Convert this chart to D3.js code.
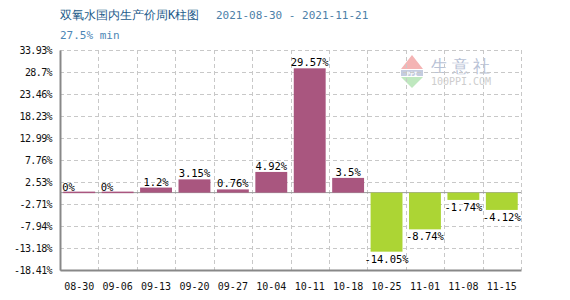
<!DOCTYPE html>
<html>
<head>
<meta charset="utf-8">
<script src="https://cdn.jsdelivr.net/npm/d3@7"></script>
<style>
  body { margin: 0; background: #fff; }
  .grid line { stroke: #c8c8c8; stroke-dasharray: 4,3; }
  .axis path, .axis line { stroke: #888; }
  text { font-family: 'DejaVu Sans Mono', monospace; }
</style>
</head>
<body>
<div id="vis"></div>
<script>
const weeks = ['08-30', '09-06', '09-13', '09-20', '09-27', '10-04', '10-11', '10-18', '10-25', '11-01', '11-08', '11-15']
const changes = [0, 0, 1.2, 3.15, 0.76, 4.92, 29.57, 3.5, -14.05, -8.74, -1.74, -4.12]
const yTicks = [33.93, 28.7, 23.46, 18.23, 12.99, 7.76, 2.53, -2.71, -7.94, -13.18, -18.41]

const width = 570
const height = 300
const margin = { top: 50, right: 49, bottom: 30, left: 60 }
const chartWidth = width - margin.left - margin.right
const chartHeight = height - margin.top - margin.bottom

const svg = d3.select('#vis').append('svg')
  .attr('width', width).attr('height', height)

const x = d3.scaleBand()
  .domain(weeks)
  .range([margin.left, margin.left + chartWidth])
  .paddingInner(0.17)
  .paddingOuter(0.085)

const step = chartWidth / weeks.length

const y = d3.scaleLinear()
  .domain([d3.min(yTicks), d3.max(yTicks)])
  .range([margin.top + chartHeight, margin.top])

// title
svg.append('text')
  .attr('x', 60).attr('y', 19)
  .attr('font-family', "'Noto Sans CJK SC', sans-serif")
  .attr('font-size', 12)
  .attr('fill', '#1d5b8a')
  .text('双氧水国内生产价周K柱图')
svg.append('text')
  .attr('x', 216).attr('y', 19)
  .attr('font-size', 11)
  .attr('fill', '#4d7fa8')
  .text('2021-08-30 - 2021-11-21')
svg.append('text')
  .attr('x', 60).attr('y', 39)
  .attr('font-size', 11)
  .attr('fill', '#4d86b5')
  .text('27.5% min')

// watermark
const wm = svg.append('g').attr('transform', 'translate(401,55)')
wm.append('path').attr('d', 'M0,14L11,0L22,14Z').attr('fill', '#f4b4b4')
wm.append('rect').attr('x', 0).attr('y', 15).attr('width', 22).attr('height', 6).attr('fill', '#c4cce0')
wm.append('text').attr('x', 11).attr('y', 20.5).attr('text-anchor', 'middle')
  .attr('font-size', 6).attr('font-weight', 'bold').attr('fill', '#fff').text('PPI')
wm.append('path').attr('d', 'M0,22L22,22L11,33Z').attr('fill', '#bfe8bf')
wm.append('text').attr('x', 61).attr('y', 17)
  .attr('font-family', "'Noto Sans CJK SC', sans-serif")
  .attr('font-size', 17).attr('letter-spacing', 4).attr('text-anchor', 'middle')
  .attr('fill', '#b8c2d6').text('生意社')
wm.append('text').attr('x', 60).attr('y', 30)
  .attr('font-family', 'Arial, sans-serif').attr('text-anchor', 'middle')
  .attr('font-size', 10).attr('fill', '#cdcdcd').text('100PPI.COM')

// grid
const grid = svg.append('g').attr('class', 'grid')
grid.selectAll('.h').data(yTicks).join('line')
  .attr('x1', margin.left).attr('x2', margin.left + chartWidth)
  .attr('y1', (d) => Math.round(y(d)) + 0.5).attr('y2', (d) => Math.round(y(d)) + 0.5)
grid.selectAll('.v').data(weeks.slice(1).concat(['end'])).join('line')
  .attr('x1', (d, i) => Math.round(margin.left + (i + 1) * step) + 0.5)
  .attr('x2', (d, i) => Math.round(margin.left + (i + 1) * step) + 0.5)
  .attr('y1', margin.top).attr('y2', margin.top + chartHeight)

// zero line
svg.append('line')
  .attr('x1', margin.left).attr('x2', margin.left + chartWidth)
  .attr('y1', y(0)).attr('y2', y(0))
  .attr('stroke', '#999').attr('stroke-width', 1)

// bars
svg.selectAll('.bar').data(changes).join('rect')
  .attr('x', (d, i) => x(weeks[i]))
  .attr('width', x.bandwidth())
  .attr('y', (d) => d === 0 ? y(0) - 1 : y(Math.max(0, d)))
  .attr('height', (d) => d === 0 ? 1.5 : Math.abs(y(d) - y(0)))
  .attr('fill', (d) => d >= 0 ? '#a9567f' : '#acd534')

// axes
const xAxis = d3.axisBottom(x).tickSize(0).tickPadding(13)
const yAxis = d3.axisLeft(y).tickValues(yTicks).tickSize(0).tickPadding(8)
  .tickFormat((d) => d + '%')

svg.append('g')
  .attr('class', 'x axis')
  .attr('transform', `translate(0,${margin.top + chartHeight})`)
  .call(xAxis)
  .call((g) => g.selectAll('text').attr('font-size', 10).attr('fill', '#111'))
  .call((g) => g.select('.domain').attr('stroke-width', 2))

svg.append('g')
  .attr('class', 'y axis')
  .attr('transform', `translate(${margin.left},0)`)
  .call(yAxis)
  .call((g) => g.selectAll('text').attr('font-size', 10).attr('letter-spacing', -0.6).attr('fill', '#111'))
  .call((g) => g.select('.domain').attr('stroke-width', 2))

// value labels
svg.selectAll('.val').data(changes).join('text')
  .attr('x', (d, i) => d === 0 ? x(weeks[i]) - 1 : x(weeks[i]) + x.bandwidth() / 2)
  .attr('y', (d) => d >= 0 ? y(d) - 2 : y(d) + 11)
  .attr('text-anchor', (d) => d === 0 ? 'start' : 'middle')
  .attr('font-size', 10.5)
  .attr('fill', '#000')
  .text((d) => d + '%')
</script>
</body>
</html>
